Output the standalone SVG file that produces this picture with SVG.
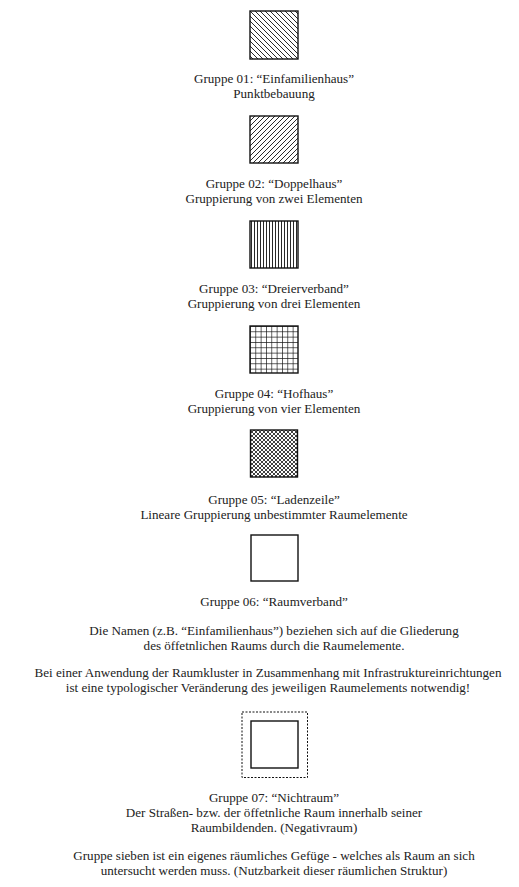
<svg xmlns="http://www.w3.org/2000/svg" width="519" height="887" viewBox="0 0 519 887">
<style>
  text { font-family: "Liberation Serif", "Times New Roman", serif; font-size: 13.1px; fill: #222; text-anchor: middle; }
  .box { stroke: #111; stroke-width: 1.4; }
  .hatch { stroke: #111; stroke-width: 0.9; fill: none; }
  .grid { stroke: #111; stroke-width: 1.3; fill: none; }
  .cross { stroke: #111; stroke-width: 0.8; fill: none; }
</style>
<defs>
  <pattern id="p1" width="5" height="5" patternUnits="userSpaceOnUse" x="250" y="11">
    <path class="hatch" d="M0,0 L5,5 M-1,4 L1,6 M4,-1 L6,1"/>
  </pattern>
  <pattern id="p2" width="5" height="5" patternUnits="userSpaceOnUse" x="250" y="116">
    <path class="hatch" d="M0,5 L5,0 M-1,1 L1,-1 M4,6 L6,4"/>
  </pattern>
  <pattern id="p3" width="3" height="10" patternUnits="userSpaceOnUse" x="250" y="221">
    <path class="hatch" d="M1.5,0 L1.5,10"/>
  </pattern>
  <pattern id="p4" width="5.333" height="5.333" patternUnits="userSpaceOnUse" x="250" y="326">
    <path class="grid" d="M0,0 L5.333,0 M0,0 L0,5.333"/>
  </pattern>
  <pattern id="p5" width="4" height="4" patternUnits="userSpaceOnUse" x="250" y="430">
    <path class="cross" d="M0,0 L4,4 M-1,3 L1,5 M3,-1 L5,1 M0,4 L4,0 M-1,1 L1,-1 M3,5 L5,3"/>
  </pattern>
</defs>

<g id="gruppe01">
  <rect class="box" x="250" y="11" width="48" height="48" fill="url(#p1)"/>
  <text x="274" y="83">Gruppe 01: “Einfamilienhaus”</text>
  <text x="274" y="98">Punktbebauung</text>
</g>

<g id="gruppe02">
  <rect class="box" x="250" y="116" width="48" height="47" fill="url(#p2)"/>
  <text x="274" y="188">Gruppe 02: “Doppelhaus”</text>
  <text x="274" y="203">Gruppierung von zwei Elementen</text>
</g>

<g id="gruppe03">
  <rect class="box" x="250" y="221" width="48" height="47" fill="url(#p3)"/>
  <text x="274" y="293">Gruppe 03: “Dreierverband”</text>
  <text x="274" y="308">Gruppierung von drei Elementen</text>
</g>

<g id="gruppe04">
  <rect class="box" x="250" y="326" width="48" height="47" fill="url(#p4)"/>
  <text x="274" y="398">Gruppe 04: “Hofhaus”</text>
  <text x="274" y="413">Gruppierung von vier Elementen</text>
</g>

<g id="gruppe05">
  <rect class="box" x="250.5" y="430" width="47" height="47" fill="url(#p5)"/>
  <text x="274" y="504">Gruppe 05: “Ladenzeile”</text>
  <text x="274" y="519">Lineare Gruppierung unbestimmter Raumelemente</text>
</g>

<g id="gruppe06">
  <rect class="box" x="251" y="535" width="47" height="46" fill="#fff"/>
  <text x="274" y="606">Gruppe 06: “Raumverband”</text>
</g>

<g id="hinweis1">
  <text x="274" y="635">Die Namen (z.B. “Einfamilienhaus”) beziehen sich auf die Gliederung</text>
  <text x="274" y="650">des öffetnlichen Raums durch die Raumelemente.</text>
</g>

<g id="hinweis2">
  <text x="268" y="677">Bei einer Anwendung der Raumkluster in Zusammenhang mit Infrastruktureinrichtungen</text>
  <text x="268" y="692">ist eine typologischer Veränderung des jeweiligen Raumelements notwendig!</text>
</g>

<g id="gruppe07">
  <rect x="242" y="712" width="65.5" height="65.5" fill="none" stroke="#111" stroke-width="1" stroke-dasharray="2,1.5"/>
  <rect class="box" x="251" y="721" width="47" height="47" fill="#fff"/>
  <text x="274" y="802">Gruppe 07: “Nichtraum”</text>
  <text x="274" y="817">Der Straßen- bzw. der öffetnliche Raum innerhalb seiner</text>
  <text x="274" y="832">Raumbildenden. (Negativraum)</text>
</g>

<g id="hinweis3">
  <text x="274" y="860">Gruppe sieben ist ein eigenes räumliches Gefüge - welches als Raum an sich</text>
  <text x="274" y="875">untersucht werden muss. (Nutzbarkeit dieser räumlichen Struktur)</text>
</g>

<g id="connectors"></g>
</svg>
